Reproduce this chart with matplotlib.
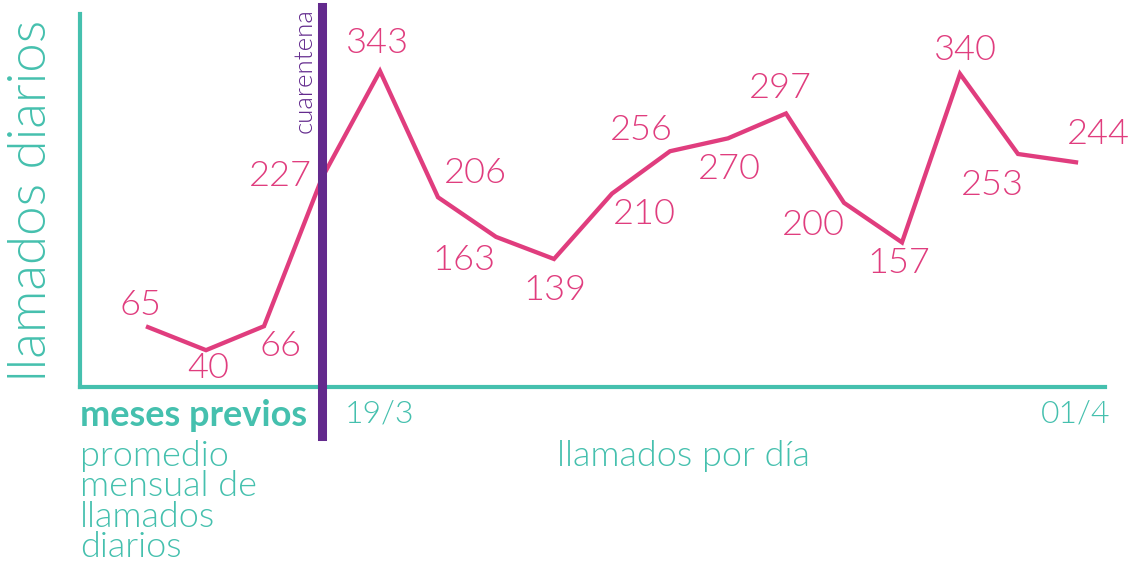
import matplotlib.pyplot as plt
from matplotlib import transforms

# valores diarios de llamados
dias = list(range(17))
llamados = [65, 40, 66, 227, 343, 206, 163, 139, 210, 256, 270, 297, 200, 157, 340, 253, 244]
etiquetas_x = ["19/3", "01/4"]
idx_etiquetas_x = [4, 16]
idx_cuarentena = 3

# desplazamiento de cada etiqueta (pixeles)
offsets = [(-8, 22), (2, -18), (17, -20), (-42, 2), (-3, 28), (37, 24), (-32, -23), (1, -31),
           (32, -20), (-29, 21), (1, -31), (-6, 25), (-31, -22), (-3, -21), (5, 24), (-26, -31), (22, 28)]

teal = "#45C0AE"
rosa = "#E03D7E"
violeta = "#632A8D"
plt.rcParams['font.family'] = ['Lato', 'DejaVu Sans']
liviano = 300

W, H = 1135, 569
fig = plt.figure(figsize=(W / 100, H / 100), dpi=100)
ax = fig.add_axes([80 / W, 1 - 387 / H, (1105 - 80) / W, (387 - 14) / H])

ax.plot(dias, llamados, color=rosa, lw=3.1, solid_joinstyle='miter', zorder=3)
for d, v, (dx, dy) in zip(dias, llamados, offsets):
    ax.annotate(str(v), (d, v), xytext=(dx, dy), textcoords='offset pixels',
                ha='center', va='center', color=rosa, fontsize=26, fontweight=liviano)

ax.set_xlim((80 - 148) / 58, (1105 - 148) / 58)
ax.set_ylim(0, 405)
for s in ['top', 'right']:
    ax.spines[s].set_visible(False)
for s in ['left', 'bottom']:
    ax.spines[s].set_color(teal)
    ax.spines[s].set_linewidth(3)
ax.set_xticks([])
ax.set_yticks([])

# linea de cuarentena
ax.axvline(idx_cuarentena, ymin=(387 - 436) / 373, ymax=(387 - 7) / 373, color=violeta,
           lw=6.5, clip_on=False, zorder=4)
trans = transforms.blended_transform_factory(ax.transData, ax.transAxes)
ax.text(idx_cuarentena - 0.3, (387 - 8) / 373, "cuarentena", rotation=90, ha='center', va='top',
        color=violeta, fontsize=18.5, fontweight=liviano, transform=trans)

for i, lab in zip(idx_etiquetas_x, etiquetas_x):
    ax.text(i, (387 - 414) / 373, lab, ha='center', va='center', color=teal, fontsize=23,
            fontweight=liviano, transform=trans)

fig.text(32 / W, 1 - 200 / H, "llamados diarios", rotation=90, ha='center', va='center',
         color=teal, fontsize=38, fontweight=liviano)
fig.text(80 / W, 1 - 416 / H, "meses previos", ha='left', va='center', color=teal,
         fontsize=26, fontweight='bold')
fig.text(80 / W, 1 - 440 / H, "promedio\nmensual de\nllamados\ndiarios", ha='left', va='top',
         color=teal, fontsize=26, linespacing=0.94, fontweight=liviano)
fig.text(683 / W, 1 - 456 / H, "llamados por día", ha='center', va='center', color=teal,
         fontsize=26, fontweight=liviano)

fig.savefig("out.png", dpi=100)
